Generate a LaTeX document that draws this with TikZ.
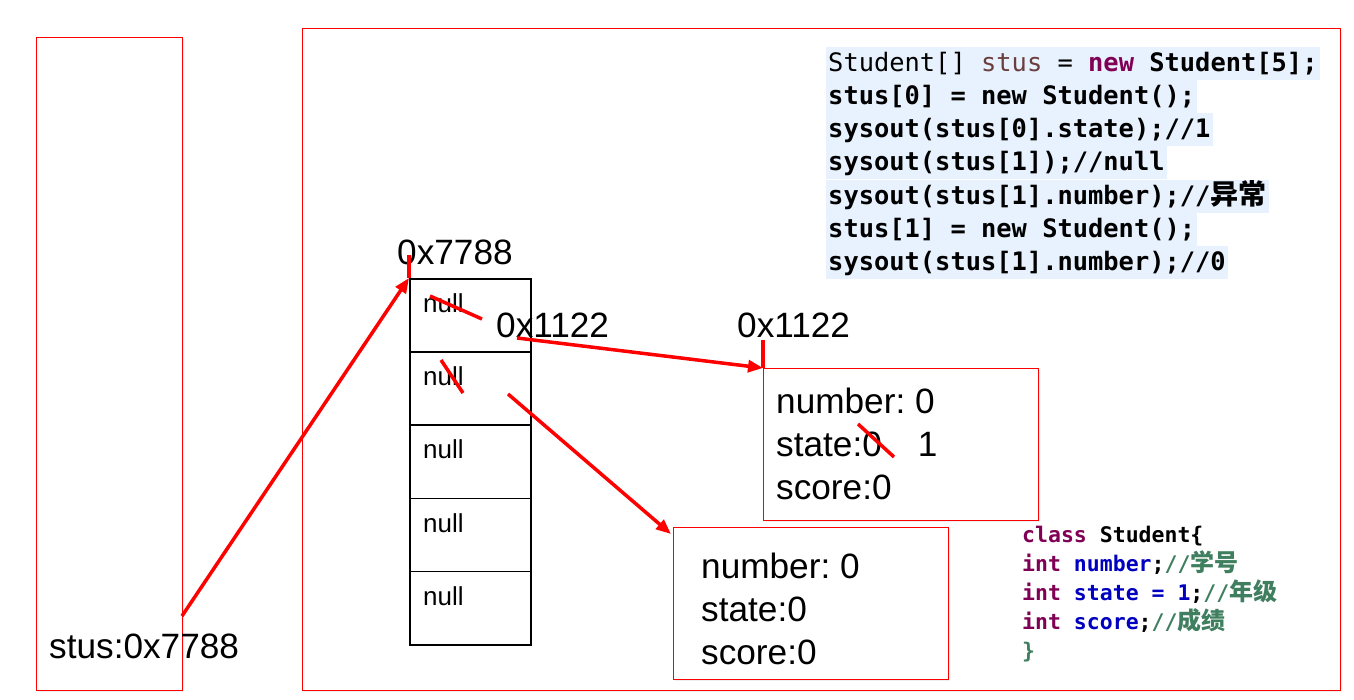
\documentclass[tikz,border=0pt]{standalone}
\usepackage{fontspec}
\setmainfont{Liberation Sans}
\setmonofont{DejaVu Sans Mono}
\newfontfamily\cjk{Noto Sans CJK SC}
\usetikzlibrary{arrows.meta,shadows}
\definecolor{kw}{HTML}{7F0055}
\definecolor{fld}{HTML}{0000C0}
\definecolor{cmt}{HTML}{3F7F5F}
\definecolor{lv}{HTML}{6A3E3E}
\definecolor{codebg}{HTML}{E8F2FE}
\definecolor{rd}{HTML}{FF0000}
\newcommand\bigfnt{\fontsize{35.2}{40}\selectfont}
\newcommand\nullfnt{\fontsize{26}{30}\selectfont}
\newcommand\codefnt{\fontsize{25.4}{30}\selectfont\ttfamily}
\newcommand\clsfnt{\fontsize{21.5}{26}\selectfont\ttfamily\bfseries}
\newcommand\cjkcode[1]{{\fontsize{28}{30}\selectfont\cjk\bfseries #1}}
\newcommand\cjkcls[1]{{\fontsize{24}{26}\selectfont\cjk\bfseries #1}}
\frenchspacing
\begin{document}
\begin{tikzpicture}[x=1pt,y=-1pt,
  frame/.style={draw=rd, line width=1pt, fill=white,
    drop shadow={shadow xshift=1.5pt, shadow yshift=-1.5pt, opacity=0.12}},
  objbox/.style={draw=rd, line width=1pt, fill=white, anchor=north west, inner sep=0pt,
    minimum width=275pt, minimum height=152pt,
    drop shadow={shadow xshift=1.5pt, shadow yshift=-1.5pt, opacity=0.12}},
  cell/.style={draw=black, line width=1.6pt, anchor=north west, inner sep=0pt,
    minimum width=121pt, minimum height=73.2pt},
  biglbl/.style={anchor=base west, inner sep=0pt, font=\bigfnt},
  nulllbl/.style={anchor=base west, inner sep=0pt, font=\nullfnt},
  codeline/.style={anchor=base west, fill=codebg, inner xsep=2pt, inner ysep=0pt,
    text height=24pt, text depth=8.5pt, font=\codefnt},
  clsline/.style={anchor=base west, inner sep=0pt, font=\clsfnt},
  refarrow/.style={draw=rd, line width=3.5pt, -{Triangle[length=15pt,width=12pt]}},
  redline/.style={draw=rd, line width=3.5pt}
]
\useasboundingbox (0,0) rectangle (1354,699);
\fill[white] (0,0) rectangle (1354,699);

% frames
\path[frame] (36,37) rectangle (182,690);
\path[frame] (302,28) rectangle (1340,690);

% code block
\node[codeline] (c1) at (826,71) {Student[] {\color{lv}stus} = {\bfseries{\color{kw}new} Student[5];}};
\node[codeline] (c2) at (826,104) {\bfseries stus[0] = new Student();};
\node[codeline] (c3) at (826,137) {\bfseries sysout(stus[0].state);//1};
\node[codeline] (c4) at (826,170) {\bfseries sysout(stus[1]);//null};
\node[codeline] (c5) at (826,204) {\bfseries sysout(stus[1].number);//\cjkcode{异常}};
\node[codeline] (c6) at (826,237) {\bfseries stus[1] = new Student();};
\node[codeline] (c7) at (826,270) {\bfseries sysout(stus[1].number);//0};

% class block
\node[clsline] (k1) at (1022,542) {{\color{kw}class} Student\{};
\node[clsline] (k2) at (1022,571) {{\color{kw}int} {\color{fld}number};{\color{cmt}//\cjkcls{学号}}};
\node[clsline] (k3) at (1022,600) {{\color{kw}int} {\color{fld}state = 1};{\color{cmt}//\cjkcls{年级}}};
\node[clsline] (k4) at (1022,629) {{\color{kw}int} {\color{fld}score};{\color{cmt}//\cjkcls{成绩}}};
\node[clsline] (k5) at (1022,658) {{\color{cmt}\}}};

% stack variable
\node[biglbl] (svar) at (49,658) {stus:0x7788};

% array
\node[cell] (a1) at (409,278) {};
\node[cell] (a2) at (409,351.2) {};
\node[cell] (a3) at (409,424.4) {};
\node[cell] (a4) at (409,497.6) {};
\node[cell] (a5) at (409,570.8) {};
\node[nulllbl] (n1) at (423,312) {null};
\node[nulllbl] (n2) at (423,385) {null};
\node[nulllbl] (n3) at (423,458) {null};
\node[nulllbl] (n4) at (423,532) {null};
\node[nulllbl] (n5) at (423,605) {null};
\node[biglbl] (arraddr) at (397,264) {0x7788};
\node[biglbl] (celladdr) at (496,337) {0x1122};

% objects
\node[objbox] (o1) at (763,368) {};
\node[biglbl] (o1a) at (776,413) {number: 0};
\node[biglbl] (o1b) at (776,456) {state:0\hspace{36pt}1};
\node[biglbl] (o1c) at (776,499) {score:0};
\node[biglbl] (o1addr) at (737,337) {0x1122};

\node[objbox] (o2) at (673,527) {};
\node[biglbl] (o2a) at (701,578) {number: 0};
\node[biglbl] (o2b) at (701,621) {state:0};
\node[biglbl] (o2c) at (701,664) {score:0};

% connectors
\coordinate (s0) at (182,616);
\coordinate (t0) at (409,255);
\coordinate (p1) at (517,338);
\coordinate (t1) at (763,340);
\coordinate (p2) at (508,394);
\coordinate (e2) at (671,534);
\draw[refarrow] (s0) -- (a1.north west);
\draw[redline] (t0) -- (a1.north west);
\draw[refarrow] (p1) -- (o1.north west);
\draw[redline] (t1) -- (o1.north west);
\draw[refarrow] (p2) -- (e2);

% strike-throughs
\coordinate (x1a) at (430,296); \coordinate (x1b) at (482,319);
\coordinate (x2a) at (441,360); \coordinate (x2b) at (463,393);
\coordinate (x3a) at (858,424); \coordinate (x3b) at (894,457);
\draw[redline] (x1a) -- (x1b);
\draw[redline] (x2a) -- (x2b);
\draw[redline] (x3a) -- (x3b);
\end{tikzpicture}
\end{document}
